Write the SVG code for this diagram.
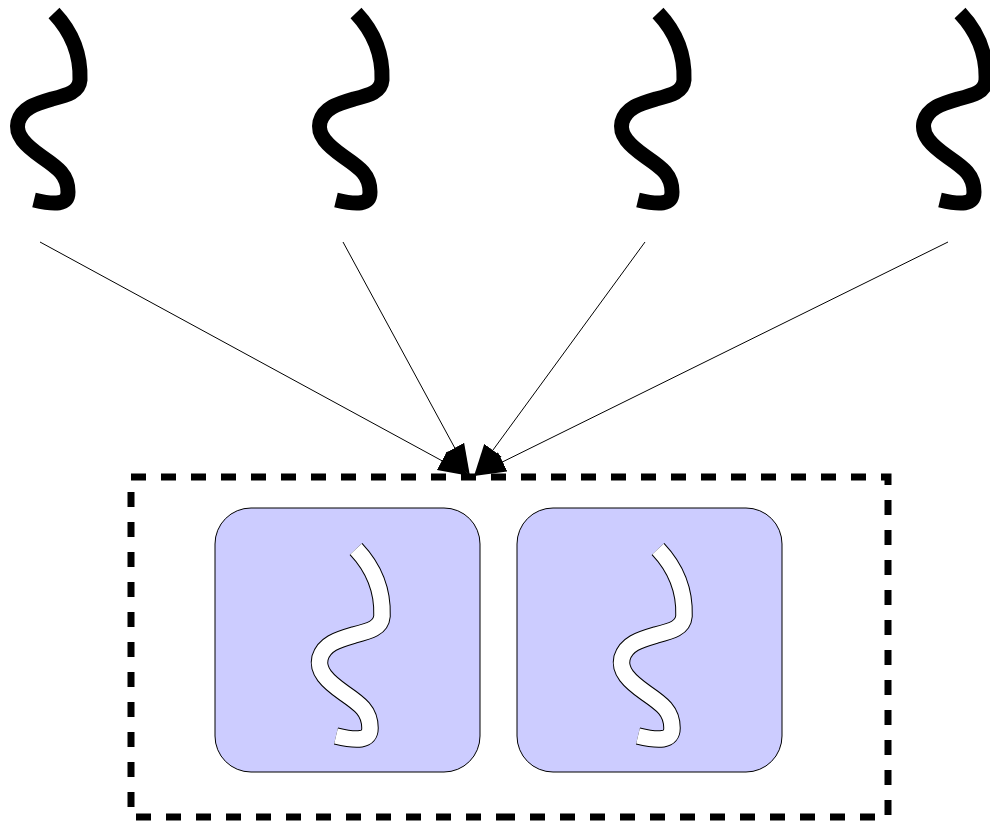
<svg xmlns="http://www.w3.org/2000/svg" xmlns:xlink="http://www.w3.org/1999/xlink" width="990" height="822" viewBox="0 0 990 822">
<style>
.sq{fill:none;stroke:#000;stroke-width:15;stroke-linecap:butt;stroke-linejoin:round}
.sqo{fill:none;stroke:#000;stroke-width:17.5;stroke-linecap:butt;stroke-linejoin:miter}
.sqi{fill:none;stroke:#fff;stroke-width:15.5;stroke-linecap:butt;stroke-linejoin:miter}
.box{fill:#ccccff;stroke:#000;stroke-width:1}
.conn{fill:none;stroke:#000;stroke-width:1;marker-end:url(#ah)}
.frame{fill:none;stroke:#000;stroke-width:7;stroke-dasharray:15 15}
</style>
<defs>
<path id="s" d="M 54 13 C 70 30, 81 52, 80 80 C 79 92, 68 95, 52 99 C 35 104, 22 108, 18 122 C 15 135, 25 145, 42 157 C 58 168, 68 175, 68 192 C 68 205, 55 205, 34 200"/>
<marker id="ah" markerUnits="userSpaceOnUse" markerWidth="32" markerHeight="22" refX="30" refY="10" orient="auto" viewBox="0 0 30 20">
<path d="M0 0 L30 10 L0 20 Z" fill="#000"/>
</marker>
</defs>
<g id="source1"><use xlink:href="#s" class="sq"/></g>
<g id="source2"><use xlink:href="#s" class="sq" transform="translate(302,0)"/></g>
<g id="source3"><use xlink:href="#s" class="sq" transform="translate(604,0)"/></g>
<g id="source4"><use xlink:href="#s" class="sq" transform="translate(906,0)"/></g>
<g id="group">
<path class="frame" d="M 511 817 H 131 V 477 H 888 V 817 Z"/>
</g>
<g id="node1">
<rect class="box" x="215" y="508" width="265" height="264" rx="36"/>
<use xlink:href="#s" class="sqo" transform="translate(302,536)"/>
<use xlink:href="#s" class="sqi" transform="translate(302,536)"/>
</g>
<g id="node2">
<rect class="box" x="517" y="508" width="265" height="264" rx="36"/>
<use xlink:href="#s" class="sqo" transform="translate(604,536)"/>
<use xlink:href="#s" class="sqi" transform="translate(604,536)"/>
</g>
<g id="connectors">
<line class="conn" x1="40" y1="242" x2="470" y2="476"/>
<line class="conn" x1="343" y1="242" x2="470" y2="476"/>
<line class="conn" x1="645" y1="242" x2="474" y2="476"/>
<line class="conn" x1="948" y1="242" x2="474" y2="476"/>
</g>
</svg>
